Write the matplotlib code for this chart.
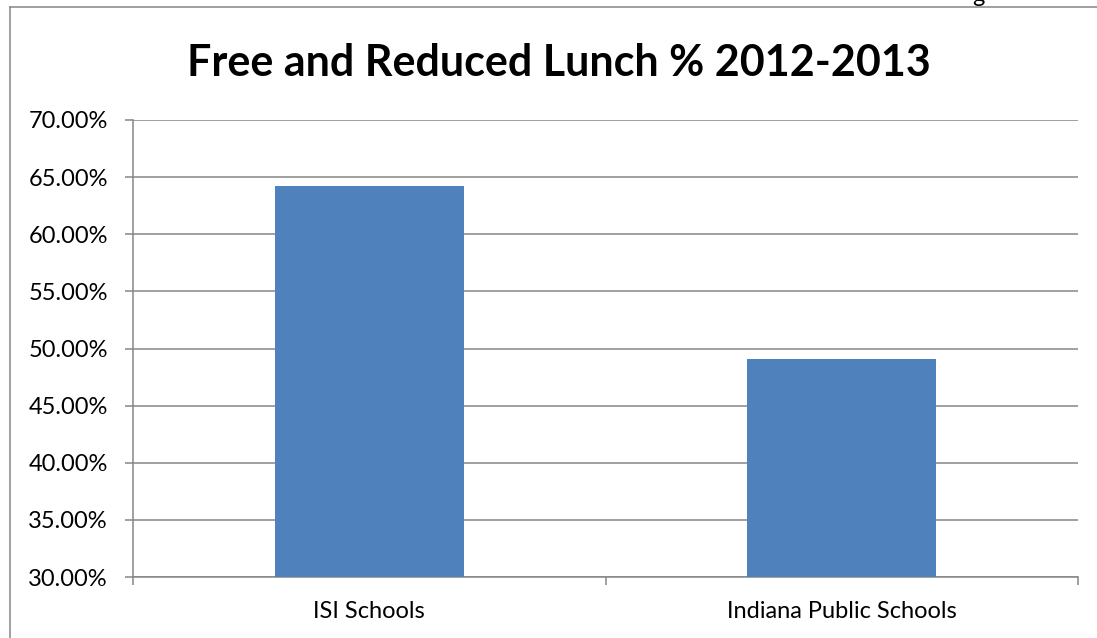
import matplotlib.pyplot as plt
from matplotlib.lines import Line2D
from matplotlib.ticker import FuncFormatter, FixedLocator

DPI = 100
IMG_SIZE = (1097, 638)  # (width, height)

categories = ["ISI Schools", "Indiana Public Schools"]
lunch_pct = [64.2, 49.1]
y_ticks = [30, 35, 40, 45, 50, 55, 60, 65, 70]

GRID = "#868686"
BAR = "#4F81BD"

plt.rcParams['font.family'] = ['Lato', 'DejaVu Sans']

fig = plt.figure(figsize=(IMG_SIZE[0]/DPI, IMG_SIZE[1]/DPI), dpi=DPI)
ax = fig.add_axes([133/1097, 1 - 577/638, (1078-133)/1097, (577-120)/638])

x = range(len(categories))
ax.bar(x, [v - 30 for v in lunch_pct], bottom=30, width=0.4, color=BAR, zorder=3)

ax.set_xlim(-0.5, 1.5)
ax.set_ylim(30, 70)
ax.set_yticks(y_ticks)
ax.yaxis.set_major_formatter(FuncFormatter(lambda v, p: f"{v:.2f}%"))
ax.set_xticks(list(x))
ax.set_xticklabels(categories)
ax.xaxis.set_minor_locator(FixedLocator([-0.5, 0.5, 1.5]))

ax.grid(axis='y', color=GRID, linewidth=1.1, zorder=0)
for s in ['top', 'right']:
    ax.spines[s].set_visible(False)
for s in ['left', 'bottom']:
    ax.spines[s].set_color(GRID)
    ax.spines[s].set_linewidth(1.1)

ax.tick_params(axis='y', length=6, width=1.1, color=GRID, labelsize=17, pad=12)
ax.tick_params(axis='x', which='major', length=0, labelsize=17, pad=17)
ax.tick_params(axis='x', which='minor', length=6, width=1.1, color=GRID)

fig.text(559/1097, 1 - 63/638, "Free and Reduced Lunch % 2012-2013",
         ha='center', va='center', fontsize=31, fontweight='bold')

# outer frame (left and top edges visible)
fig.add_artist(Line2D([10/1097, 10/1097], [0, 1 - 7/638], transform=fig.transFigure,
                      color=GRID, linewidth=1.1))
fig.add_artist(Line2D([10/1097, 1], [1 - 7/638, 1 - 7/638], transform=fig.transFigure,
                      color=GRID, linewidth=1.1))
# clipped text from above the chart
fig.text(978/1097, 1 + 4/638, "g", ha='center', va='center', fontsize=17)

fig.savefig("out.png", dpi=DPI)
